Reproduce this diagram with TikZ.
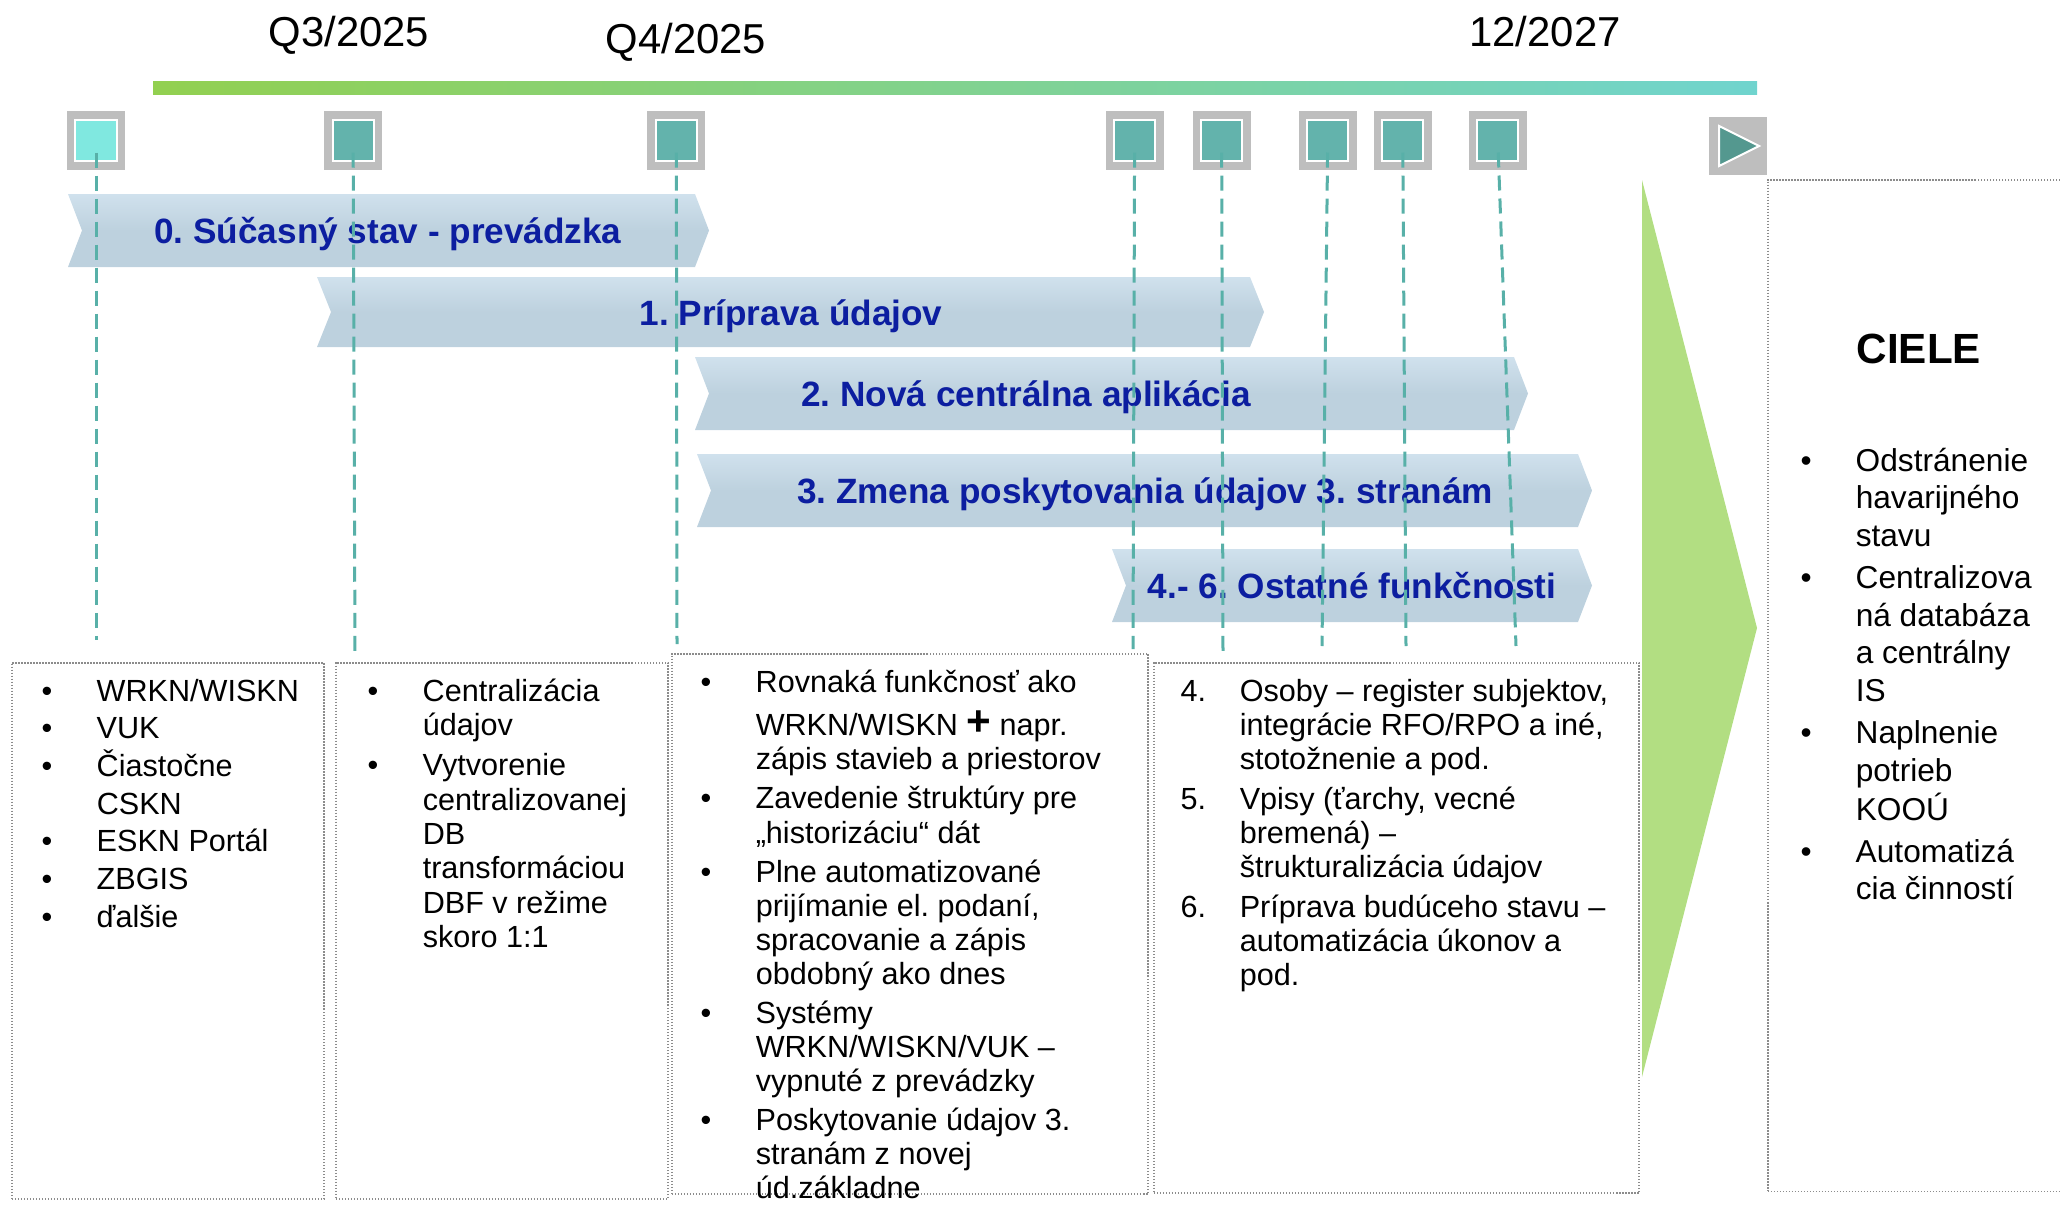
\documentclass[tikz,border=0pt]{standalone}
\usepackage{fontspec}
\setmainfont{Liberation Sans}
\frenchspacing
\usetikzlibrary{positioning}
\definecolor{tlgreen}{RGB}{146,208,80}
\definecolor{tlteal}{RGB}{112,212,206}
\definecolor{markgray}{RGB}{190,190,190}
\definecolor{markteal}{RGB}{99,179,172}
\definecolor{markcyan}{RGB}{128,232,224}
\definecolor{playteal}{RGB}{84,152,143}
\definecolor{guideteal}{RGB}{88,176,168}
\definecolor{bandfill}{RGB}{189,209,222}
\definecolor{bandtop}{RGB}{208,225,237}
\definecolor{bandblue}{RGB}{12,30,160}
\definecolor{goalgreen}{RGB}{178,222,130}
\definecolor{boxgray}{RGB}{140,140,140}
\tikzset{
	marker/.style = {shape=rectangle, fill=markgray, minimum size=0.58cm, inner sep=0pt,
		path picture={\draw[white, line width=0.02cm, fill=#1]
			([shift={(-0.205cm,-0.2cm)}]path picture bounding box.center) rectangle
			([shift={(0.205cm,0.2cm)}]path picture bounding box.center);}},
	marker/.default = markteal,
	playmark/.style = {shape=rectangle, fill=markgray, minimum size=0.58cm, inner sep=0pt,
		path picture={\draw[white, line width=0.02cm, fill=playteal]
			([shift={(-0.19cm,0.2cm)}]path picture bounding box.center) --
			([shift={(0.21cm,0cm)}]path picture bounding box.center) --
			([shift={(-0.19cm,-0.2cm)}]path picture bounding box.center) -- cycle;}},
	guide/.style = {draw=guideteal, line width=0.03cm, dash pattern=on 0.15cm off 0.08cm, shorten <=0.12cm},
	band/.style = {top color=bandtop, bottom color=bandfill, middle color=bandfill},
	bandtext/.style = {font=\fontsize{10}{12}\selectfont\bfseries, text=bandblue, inner sep=0pt, text height=0.26cm, text depth=0pt},
	datetext/.style = {font=\fontsize{11.9}{14}\selectfont, inner sep=0pt, anchor=base},
	infobox/.style = {shape=rectangle, draw=boxgray, line width=0.015cm, dash pattern=on 0.015cm off 0.015cm, inner sep=0pt, anchor=north west},
	infolist/.style = {inner sep=0pt, anchor=base west}
}
\newcommand{\drawband}[4]{\shade[band] (#1,#3) -- (#2,#3) -- (#2+14,{(#3+#4)/2}) -- (#2,#4) -- (#1,#4) -- (#1+14,{(#3+#4)/2}) -- cycle;}

\begin{document}
\begin{tikzpicture}[x=0.01cm, y=-0.01cm]
	\useasboundingbox (0,0) rectangle (2060,1206);

	% timeline
	\node[datetext] (d1) at (349,46) {Q3/2025};
	\node[datetext] (d2) at (686,54) {Q4/2025};
	\node[datetext] (d3) at (1545,46) {12/2027};
	\shade[left color=tlgreen, right color=tlteal] (153,81) rectangle (1757,94);

	\node[marker=markcyan] (m1) at (96,140.5) {};
	\node[marker, right of=m1, node distance=2.57cm] (m2) {};
	\node[marker, right of=m2, node distance=3.23cm] (m3) {};
	\node[marker, right of=m3, node distance=4.58cm] (m4) {};
	\node[marker, right of=m4, node distance=0.87cm] (m5) {};
	\node[marker, right of=m5, node distance=1.06cm] (m6) {};
	\node[marker, right of=m6, node distance=0.75cm] (m7) {};
	\node[marker, right of=m7, node distance=0.95cm] (m8) {};
	\node[playmark] (play) at (1738,146) {};

	% phases
	\drawband{68}{695}{194}{267}
	\drawband{317}{1250}{277}{347}
	\drawband{695}{1514}{357}{430}
	\drawband{697}{1578}{454}{527}
	\drawband{1112}{1578}{549}{622}
	\node[bandtext] (t0) at (388,230.5) {0. Súčasný stav - prevádzka};
	\node[bandtext] (t1) at (791,312) {1. Príprava údajov};
	\node[bandtext] (t2) at (1026,393.5) {2. Nová centrálna aplikácia};
	\node[bandtext] (t3) at (1145,490.5) {3. Zmena poskytovania údajov 3. stranám};
	\node[bandtext] (t4) at (1352,585.5) {4.- 6. Ostatné funkčnosti};

	\coordinate (g1) at (96,640);
	\coordinate (g2) at (355,653);
	\coordinate (g3) at (677,644);
	\coordinate (g4) at (1133,649);
	\coordinate (g5) at (1223,653);
	\coordinate (g6) at (1322,646);
	\coordinate (g7) at (1406,646);
	\coordinate (g8) at (1516,646);
	\foreach \i in {1,...,8}
		\draw[guide] (m\i.center) -- (g\i);

	\fill[goalgreen] (1642,180) -- (1757,628) -- (1642,1077) -- cycle;

	% boxes
	\node[infobox, minimum width=3.12cm, minimum height=5.36cm] (box0) at (11,662) {};
	\node[infobox, minimum width=3.32cm, minimum height=5.36cm] (box1) at (335,662) {};
	\node[infobox, minimum width=4.76cm, minimum height=5.40cm] (box2) at (671,653) {};
	\node[infobox, minimum width=4.85cm, minimum height=5.30cm] (box3) at (1153,662) {};
	\node[infobox, minimum width=3.08cm, minimum height=10.11cm] (box4) at (1767,179) {};

	\node[infolist, font=\fontsize{8.7}{10.7}\selectfont] (list0) at ([shift={(0.30cm,-0.39cm)}]box0.north west) {%
		\begin{tabular}[t]{@{}p{0.55cm}@{}l@{}}
		\textbullet & WRKN/WISKN\\
		\textbullet & VUK\\
		\textbullet & Čiastočne\\
		 & CSKN\\
		\textbullet & ESKN Portál\\
		\textbullet & ZBGIS\\
		\textbullet & ďalšie
		\end{tabular}};
	\node[infolist, font=\fontsize{8.7}{9.8}\selectfont] (list1) at ([shift={(0.32cm,-0.39cm)}]box1.north west) {%
		\begin{tabular}[t]{@{}p{0.55cm}@{}l@{}}
		\textbullet & Centralizácia\\
		 & údajov\\[1.6pt]
		\textbullet & Vytvorenie\\
		 & centralizovanej\\
		 & DB\\
		 & transformáciou\\
		 & DBF v režime\\
		 & skoro 1:1
		\end{tabular}};
	\node[infolist, font=\fontsize{8.7}{9.7}\selectfont] (list2) at ([shift={(0.29cm,-0.39cm)}]box2.north west) {%
		\begin{tabular}[t]{@{}p{0.55cm}@{}l@{}}
		\textbullet & Rovnaká funkčnosť ako\\[2.5pt]
		 & WRKN/WISKN {\fontsize{12}{12}\selectfont\bfseries +} napr.\\
		 & zápis stavieb a priestorov\\[1.4pt]
		\textbullet & Zavedenie štruktúry pre\\
		 & „historizáciu“ dát\\[1.4pt]
		\textbullet & Plne automatizované\\
		 & prijímanie el. podaní,\\
		 & spracovanie a zápis\\
		 & obdobný ako dnes\\[1.4pt]
		\textbullet & Systémy\\
		 & WRKN/WISKN/VUK –\\
		 & vypnuté z prevádzky\\[1.4pt]
		\textbullet & Poskytovanie údajov 3.\\
		 & stranám z novej\\
		 & úd.základne
		\end{tabular}};
	\node[infolist, font=\fontsize{8.7}{9.7}\selectfont] (list3) at ([shift={(0.27cm,-0.39cm)}]box3.north west) {%
		\begin{tabular}[t]{@{}p{0.59cm}@{}l@{}}
		4. & Osoby – register subjektov,\\
		 & integrácie RFO/RPO a iné,\\
		 & stotožnenie a pod.\\[1.7pt]
		5. & Vpisy (ťarchy, vecné\\
		 & bremená) –\\
		 & štrukturalizácia údajov\\[1.7pt]
		6. & Príprava budúceho stavu –\\
		 & automatizácia úkonov a\\
		 & pod.
		\end{tabular}};

	% goals
	\node[infolist, font=\fontsize{12}{14}\selectfont\bfseries] (goals) at ([shift={(0.89cm,-1.84cm)}]box4.north west) {CIELE};
	\node[infolist, font=\fontsize{9}{10.7}\selectfont] (list4) at ([shift={(0.33cm,-2.92cm)}]box4.north west) {%
		\begin{tabular}[t]{@{}p{0.55cm}@{}l@{}}
		\textbullet & Odstránenie\\
		 & havarijného\\
		 & stavu\\[1.3pt]
		\textbullet & Centralizova\\
		 & ná databáza\\
		 & a centrálny\\
		 & IS\\[1.3pt]
		\textbullet & Naplnenie\\
		 & potrieb\\
		 & KOOÚ\\[1.3pt]
		\textbullet & Automatizá\\
		 & cia činností
		\end{tabular}};
\end{tikzpicture}
\end{document}
